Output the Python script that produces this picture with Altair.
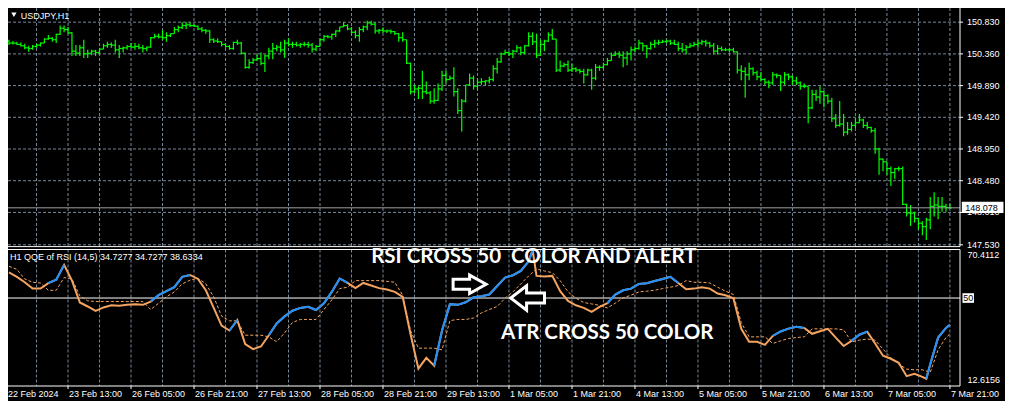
import altair as alt
import pandas as pd

# ---------------- texts ----------------
SYMBOL_TITLE = "USDJPY,H1"
QQE_TITLE = "H1 QQE of RSI (14,5) 34.7277 34.7277 38.6334"
NOTE_RSI = "RSI CROSS 50\u00a0 COLOR AND ALERT"
NOTE_ATR = "ATR CROSS 50 COLOR"

# ---------------- price bars (H1, 240 bars) ----------------
FIRST_OPEN = 150.55
HIGH = [
    150.57, 150.55, 150.54, 150.53, 150.51, 150.48, 150.49, 150.51, 150.53, 150.59,
    150.64, 150.61, 150.66, 150.78, 150.78, 150.76, 150.68, 150.49, 150.49, 150.57,
    150.42, 150.42, 150.42, 150.45, 150.51, 150.54, 150.53, 150.57, 150.49, 150.47,
    150.49, 150.52, 150.52, 150.51, 150.49, 150.47, 150.61, 150.66, 150.66, 150.71,
    150.68, 150.66, 150.76, 150.78, 150.83, 150.83, 150.83, 150.80, 150.78, 150.76,
    150.73, 150.71, 150.59, 150.59, 150.54, 150.52, 150.49, 150.54, 150.57, 150.54,
    150.38, 150.28, 150.30, 150.35, 150.38, 150.35, 150.45, 150.52, 150.49, 150.54,
    150.57, 150.59, 150.54, 150.54, 150.52, 150.54, 150.54, 150.52, 150.49, 150.59,
    150.64, 150.64, 150.66, 150.71, 150.76,
    150.83, 150.80, 150.76, 150.71, 150.76,
    150.78, 150.85, 150.85, 150.83, 150.73, 150.75, 150.72, 150.72, 150.70, 150.67,
    150.68, 150.57, 150.23, 149.90, 149.88, 150.11, 149.95, 149.81, 149.85, 149.92,
    150.11, 150.11, 150.04, 150.16, 149.85, 149.69, 149.90, 150.07, 150.04, 150.00,
    150.00, 149.97, 150.02, 150.19, 150.30, 150.38, 150.42, 150.40, 150.42, 150.49,
    150.47, 150.49, 150.68, 150.68, 150.66, 150.57, 150.57, 150.68, 150.73, 150.58,
    150.26, 150.23, 150.26, 150.21, 150.16, 150.14, 150.14, 150.14, 150.14, 150.21,
    150.19, 150.23, 150.30, 150.38, 150.40, 150.40, 150.40, 150.40, 150.47, 150.47,
    150.57, 150.52, 150.49, 150.54, 150.57, 150.57, 150.57, 150.57, 150.57, 150.57,
    150.54, 150.52, 150.49, 150.52, 150.54, 150.57, 150.57, 150.57, 150.54, 150.52,
    150.49, 150.47, 150.45, 150.45, 150.45, 150.40, 150.19, 150.16, 150.23, 150.16,
    150.11, 150.09, 150.00, 149.97, 150.09, 150.07, 150.04, 150.09, 150.07, 150.04,
    150.02, 149.95, 149.92, 149.88, 149.83, 149.83, 149.88, 149.81, 149.76, 149.71,
    149.47, 149.66, 149.47, 149.35, 149.35, 149.40, 149.47, 149.40, 149.35, 149.28,
    149.26, 148.97, 148.81, 148.76, 148.69, 148.67, 148.69, 148.69, 148.14, 148.12,
    148.02, 147.93, 147.88, 147.93, 148.24, 148.31, 148.24, 148.24, 148.14, 148.14,
]
LOW = [
    150.49, 150.50, 150.49, 150.47, 150.43, 150.39, 150.42, 150.45, 150.47, 150.52,
    150.57, 150.54, 150.52, 150.64, 150.68, 150.66, 150.33, 150.33, 150.33, 150.30,
    150.30, 150.34, 150.33, 150.35, 150.43, 150.45, 150.45, 150.38, 150.30, 150.38,
    150.42, 150.45, 150.42, 150.43, 150.38, 150.40, 150.45, 150.59, 150.59, 150.57,
    150.54, 150.61, 150.66, 150.68, 150.73, 150.73, 150.76, 150.76, 150.71, 150.68,
    150.66, 150.52, 150.52, 150.52, 150.47, 150.45, 150.42, 150.42, 150.49, 150.35,
    150.14, 150.14, 150.21, 150.26, 150.19, 150.09, 150.28, 150.28, 150.40, 150.38,
    150.30, 150.47, 150.45, 150.47, 150.45, 150.47, 150.45, 150.38, 150.40, 150.47,
    150.54, 150.59, 150.57, 150.61, 150.68,
    150.76, 150.71, 150.64, 150.59, 150.54,
    150.68, 150.71, 150.78, 150.66, 150.66, 150.67, 150.67, 150.66, 150.64, 150.54,
    150.54, 150.21, 149.76, 149.78, 149.69, 149.69, 149.76, 149.62, 149.62, 149.66,
    149.81, 149.92, 149.97, 149.73, 149.47, 149.21, 149.64, 149.90, 149.83, 149.83,
    149.90, 149.90, 149.92, 149.95, 150.07, 150.23, 150.35, 150.33, 150.30, 150.38,
    150.34, 150.35, 150.47, 150.49, 150.30, 150.33, 150.40, 150.54, 150.57, 150.09,
    150.09, 150.16, 150.09, 150.09, 150.09, 150.07, 149.92, 150.04, 149.83, 149.97,
    150.11, 150.14, 150.19, 150.26, 150.33, 150.30, 150.16, 150.19, 150.26, 150.38,
    150.42, 150.40, 150.30, 150.42, 150.45, 150.49, 150.52, 150.52, 150.49, 150.49,
    150.40, 150.38, 150.35, 150.45, 150.47, 150.45, 150.49, 150.47, 150.45, 150.35,
    150.35, 150.40, 150.40, 150.38, 150.38, 150.07, 149.97, 149.71, 149.97, 150.04,
    149.97, 149.95, 149.90, 149.85, 149.90, 150.00, 149.81, 149.90, 149.97, 149.90,
    149.90, 149.83, 149.85, 149.33, 149.54, 149.66, 149.62, 149.57, 149.62, 149.35,
    149.26, 149.28, 149.14, 149.16, 149.21, 149.26, 149.33, 149.26, 149.24, 149.19,
    148.88, 148.57, 148.62, 148.57, 148.40, 148.50, 148.62, 148.12, 147.95, 147.81,
    147.86, 147.76, 147.67, 147.60, 147.76, 147.95, 147.91, 148.02, 148.02, 148.07,
]
CLOSE = [
    150.52, 150.52, 150.50, 150.48, 150.45, 150.44, 150.47, 150.49, 150.52, 150.58,
    150.59, 150.57, 150.65, 150.74, 150.72, 150.67, 150.40, 150.37, 150.45, 150.36,
    150.37, 150.40, 150.38, 150.43, 150.48, 150.50, 150.49, 150.42, 150.44, 150.45,
    150.47, 150.46, 150.47, 150.45, 150.44, 150.46, 150.60, 150.62, 150.61, 150.60,
    150.63, 150.66, 150.72, 150.75, 150.78, 150.79, 150.78, 150.77, 150.73, 150.71,
    150.70, 150.57, 150.55, 150.54, 150.50, 150.47, 150.44, 150.53, 150.52, 150.37,
    150.16, 150.23, 150.27, 150.29, 150.22, 150.33, 150.40, 150.44, 150.46, 150.42,
    150.52, 150.50, 150.50, 150.49, 150.50, 150.50, 150.49, 150.43, 150.47, 150.57,
    150.62, 150.61, 150.65, 150.70, 150.76,
    150.78, 150.73, 150.68, 150.63, 150.72,
    150.76, 150.82, 150.80, 150.70, 150.71, 150.70, 150.70, 150.69, 150.66, 150.60,
    150.57, 150.22, 149.80, 149.84, 149.85, 149.80, 149.78, 149.66, 149.67, 149.84,
    150.04, 149.98, 150.00, 149.80, 149.52, 149.66, 149.90, 150.00, 149.88, 149.94,
    149.95, 149.96, 149.98, 150.14, 150.24, 150.36, 150.38, 150.36, 150.40, 150.45,
    150.38, 150.48, 150.62, 150.54, 150.34, 150.50, 150.55, 150.64, 150.58, 150.12,
    150.18, 150.20, 150.12, 150.14, 150.12, 150.10, 150.05, 150.12, 150.00, 150.16,
    150.16, 150.20, 150.26, 150.34, 150.36, 150.34, 150.30, 150.36, 150.42, 150.44,
    150.52, 150.48, 150.44, 150.50, 150.52, 150.53, 150.54, 150.55, 150.52, 150.50,
    150.44, 150.42, 150.46, 150.48, 150.50, 150.52, 150.54, 150.52, 150.48, 150.40,
    150.44, 150.42, 150.42, 150.42, 150.39, 150.12, 150.10, 150.05, 150.14, 150.08,
    150.02, 149.98, 149.94, 149.93, 150.05, 150.04, 149.94, 150.05, 150.02, 149.96,
    149.93, 149.88, 149.88, 149.56, 149.76, 149.72, 149.80, 149.74, 149.66, 149.40,
    149.30, 149.32, 149.20, 149.24, 149.30, 149.34, 149.38, 149.30, 149.27, 149.22,
    148.95, 148.80, 148.76, 148.66, 148.60, 148.66, 148.66, 148.13, 148.00, 148.00,
    147.92, 147.85, 147.80, 147.90, 148.10, 148.12, 148.10, 148.10, 148.08, 148.078,
]
LAST_PRICE = 148.078
PRICE_TICKS = [150.830, 150.360, 149.890, 149.420, 148.950, 148.480, 148.010, 147.530]

# ---------------- x axis (bar index -> time label) ----------------
XTICK_BAR = [-1, 15, 31, 47, 63, 79, 95, 111, 127, 143, 159, 175, 191, 207, 223, 239]
XTICK_LABELS = ["22 Feb 2024", "23 Feb 13:00", "26 Feb 05:00", "26 Feb 21:00", "27 Feb 13:00",
                "28 Feb 05:00", "28 Feb 21:00", "29 Feb 13:00", "1 Mar 05:00", "1 Mar 21:00",
                "4 Mar 13:00", "5 Mar 05:00", "5 Mar 21:00", "6 Mar 13:00", "7 Mar 05:00",
                "7 Mar 21:00"]
GRID_BARS = list(range(7, 240, 8))

# ---------------- QQE indicator (read every 2nd bar) ----------------
RSI_EVERY2 = [
    60.9, 59.0, 56.7, 54.0, 54.0, 56.3, 57.8, 64.1, 57.4, 48.1,
    46.4, 44.5, 46.0, 46.9, 46.7, 47.1, 47.4, 47.1, 48.5, 51.2,
    52.9, 54.6, 59.0, 59.8, 58.1, 53.3, 45.8, 38.3, 36.2, 40.6,
    30.4, 28.3, 29.4, 34.2, 39.2, 42.2, 44.6, 45.8, 46.3, 44.9,
    47.8, 52.6, 58.3, 56.4, 54.2, 56.4, 55.3, 54.2, 53.6, 52.6,
    50.5, 34.6, 20.0, 24.6, 21.2, 36.2, 47.4, 47.1, 48.2, 50.3,
    50.8, 51.5, 55.1, 58.7, 59.7, 61.5, 65.6, 59.4, 59.2, 59.4,
    52.9, 48.8, 46.9, 45.8, 44.1, 46.2, 47.8, 51.5, 53.3, 54.0,
    56.0, 56.3, 57.2, 58.1, 59.0, 56.4, 53.7, 54.0, 54.6, 54.0,
    51.9, 51.2, 49.9, 36.9, 31.4, 31.4, 30.1, 33.9, 35.8, 37.0,
    37.8, 37.3, 34.8, 35.9, 36.9, 33.2, 29.6, 31.8, 34.4, 35.7,
    30.7, 25.5, 24.2, 22.5, 16.8, 17.8, 16.5, 21.9, 33.2, 37.3,
]
RSI_EXTRA_BAR = [133, 233, 239]
RSI_EXTRA = [70.41, 15.7, 38.6334]
TRAIL_EVERY2 = [
    63.5, 62.2, 58.1, 56.7, 56.4, 53.3, 53.3, 58.7, 58.1, 50.9,
    48.8, 48.5, 48.5, 48.5, 48.5, 48.5, 48.5, 48.5, 45.1, 47.8,
    50.5, 52.6, 56.0, 57.6, 58.4, 56.0, 50.5, 42.3, 40.3, 40.3,
    34.2, 34.2, 34.2, 33.5, 31.4, 35.2, 39.6, 40.9, 40.9, 40.9,
    45.1, 49.2, 54.0, 54.6, 57.4, 57.4, 57.4, 57.4, 57.1, 56.7,
    51.2, 36.2, 28.7, 28.7, 28.7, 28.0, 40.4, 40.9, 40.9, 41.5,
    43.7, 45.1, 46.4, 49.9, 52.6, 56.0, 59.4, 62.4, 61.5, 60.8,
    57.4, 52.6, 49.9, 48.1, 47.5, 46.9, 45.8, 47.8, 50.1, 51.2,
    52.6, 52.9, 53.3, 54.0, 54.6, 55.3, 57.4, 56.7, 56.7, 56.4,
    54.6, 52.9, 51.5, 39.6, 33.5, 33.5, 33.5, 30.7, 31.8, 32.8,
    33.2, 33.5, 36.9, 36.9, 36.9, 36.9, 36.5, 31.4, 32.1, 32.6,
    32.1, 28.3, 24.6, 21.9, 19.8, 19.5, 19.5, 18.4, 28.0, 33.2,
]
TRAIL_EXTRA_BAR = [239]
TRAIL_EXTRA = [34.7277]
BLUE_FROM = [10, 36, 56, 66, 108, 152, 194, 214, 233]
BLUE_TO = [14, 46, 58, 86, 133, 170, 202, 218, 239]
QQE_MAX, QQE_MID, QQE_MIN = 70.4112, 50, 12.6156

# ---------------- styling / layout ----------------
BG = "#000000"
GRID = "#778899"
GREEN = "#00ff00"
ORANGE = "#f4a460"
BLUE = "#1e90ff"
WHITE = "#ffffff"
BIDLINE = "#a0a0a0"
FONT = "Liberation Sans"

PLOT_W, PLOT_H = 952, 378
PX_PER_BAR = 3.937          # horizontal pixels per bar
PX_PER_QQE = 2.35312        # vertical pixels per indicator unit
X_LEFT, X_RIGHT = -0.25, 241.56
P_TOP, P_BOTTOM = 151.04, 147.503
Q_TOP, Q_BOTTOM = 70.62, QQE_MIN

xs = alt.Scale(domain=[X_LEFT, X_RIGHT], nice=False, zero=False)
ps = alt.Scale(domain=[145.437, P_TOP], nice=False, zero=False)
qs = alt.Scale(domain=[QQE_MIN, 173.253], nice=False, zero=False)


def X(f):
    return alt.X(f, type="quantitative", scale=xs, axis=None)


def YP(f):
    return alt.Y(f, type="quantitative", scale=ps, axis=None)


def YQ(f):
    return alt.Y(f, type="quantitative", scale=qs, axis=None)


def label(df, yenc, **kw):
    style = dict(font=FONT, fontSize=9, color=WHITE, align="left", baseline="middle")
    style.update(kw)
    return alt.Chart(df).mark_text(**style).encode(x=X("i"), y=yenc, text="t:N")


# ---------------- data frames ----------------
n = len(HIGH)
bars = pd.DataFrame({"i": list(range(n)), "high": HIGH, "low": LOW, "close": CLOSE})
bars["open"] = [FIRST_OPEN] + CLOSE[:-1]
bars["ol"] = bars["i"] - 0.5
bars["cr"] = bars["i"] + 0.5

rsi = pd.DataFrame({"i": list(range(0, 2 * len(RSI_EVERY2), 2)) + RSI_EXTRA_BAR,
                    "v": RSI_EVERY2 + RSI_EXTRA}).sort_values("i")
trail = pd.DataFrame({"i": list(range(0, 2 * len(TRAIL_EVERY2), 2)) + TRAIL_EXTRA_BAR,
                      "v": TRAIL_EVERY2 + TRAIL_EXTRA}).sort_values("i")
blue_parts = []
for s, (a, b) in enumerate(zip(BLUE_FROM, BLUE_TO)):
    part = rsi[(rsi["i"] >= a) & (rsi["i"] <= b)].copy()
    part["seg"] = s
    blue_parts.append(part)
blue = pd.concat(blue_parts)

vgrid_top = pd.DataFrame({"g": GRID_BARS, "top": P_TOP, "bot": P_BOTTOM})
vgrid_bot = pd.DataFrame({"g": GRID_BARS, "top": Q_TOP, "bot": Q_BOTTOM})
hgrid = pd.DataFrame({"p": PRICE_TICKS, "x0": X_LEFT, "x1": X_RIGHT})
top_border = pd.DataFrame({"x0": [X_LEFT, X_RIGHT], "x1": [X_RIGHT, X_RIGHT],
                           "y0": [P_BOTTOM, P_TOP], "y1": [P_BOTTOM, P_BOTTOM]})
bot_border = pd.DataFrame({"x0": [X_LEFT, X_RIGHT, X_LEFT], "x1": [X_RIGHT, X_RIGHT, X_RIGHT],
                           "y0": [Q_TOP, Q_TOP, Q_BOTTOM], "y1": [Q_TOP, Q_BOTTOM, Q_BOTTOM]})

# right price scale labels + ticks
price_lab = pd.DataFrame({"i": X_RIGHT + 7 / PX_PER_BAR, "p": PRICE_TICKS,
                          "t": [f"{v:.3f}" for v in PRICE_TICKS]})
price_tick = pd.DataFrame({"x0": X_RIGHT, "x1": X_RIGHT + 3 / PX_PER_BAR, "p": PRICE_TICKS})
# bottom time labels + ticks (first label kept inside the left edge)
time_lab = pd.DataFrame({"i": [max(b + 1 / PX_PER_BAR, X_LEFT) for b in XTICK_BAR],
                         "v": Q_BOTTOM - 4 / PX_PER_QQE, "t": XTICK_LABELS})
time_tick = pd.DataFrame({"i": XTICK_BAR[1:], "y0": Q_BOTTOM, "y1": Q_BOTTOM - 3 / PX_PER_QQE})

# ---------------- top panel (price) ----------------
t_hgrid = alt.Chart(hgrid).mark_rule(color=GRID, strokeDash=[3, 2], strokeWidth=1).encode(
    x=X("x0"), x2="x1", y=YP("p"))
t_vgrid = alt.Chart(vgrid_top).mark_rule(color=GRID, strokeDash=[3, 2], strokeWidth=1).encode(
    x=X("g"), y=YP("top"), y2="bot")
t_bars = alt.Chart(bars).mark_rule(color=GREEN, strokeWidth=1.2).encode(
    x=X("i"), y=YP("low"), y2="high")
t_open = alt.Chart(bars).mark_rule(color=GREEN, strokeWidth=1.2).encode(
    x=X("ol"), x2="i", y=YP("open"))
t_close = alt.Chart(bars).mark_rule(color=GREEN, strokeWidth=1.2).encode(
    x=X("i"), x2="cr", y=YP("close"))
t_last = alt.Chart(pd.DataFrame({"p": [LAST_PRICE], "x0": [X_LEFT], "x1": [X_RIGHT]})).mark_rule(
    color=BIDLINE, strokeWidth=1).encode(x=X("x0"), x2="x1", y=YP("p"))
t_border = alt.Chart(top_border).mark_rule(color=WHITE, strokeWidth=1).encode(
    x=X("x0"), x2="x1", y=YP("y0"), y2="y1")
t_ticks = alt.Chart(price_tick).mark_rule(color=WHITE, strokeWidth=1).encode(
    x=X("x0"), x2="x1", y=YP("p"))
t_plabels = label(price_lab, YP("p"))
t_tri = alt.Chart(pd.DataFrame({"i": [1.25], "p": [150.94]})).mark_point(
    shape="triangle-down", size=28, filled=True, color=WHITE, opacity=1).encode(
    x=X("i"), y=YP("p"))
t_title = label(pd.DataFrame({"i": [3.0], "p": [150.926], "t": [SYMBOL_TITLE]}), YP("p"))
t_box = alt.Chart(pd.DataFrame({"x0": [242.02], "x1": [252.6], "y0": [148.001], "y1": [148.167]})).mark_rect(
    color=WHITE).encode(x=X("x0"), x2="x1", y=YP("y0"), y2="y1")
t_boxtext = label(pd.DataFrame({"i": [242.9], "p": [LAST_PRICE], "t": [f"{LAST_PRICE:.3f}"]}),
                  YP("p"), color="#000000")

top = alt.layer(t_hgrid, t_vgrid, t_bars, t_open, t_close, t_last, t_border, t_ticks,
                t_plabels, t_tri, t_title, t_box, t_boxtext)

# ---------------- bottom panel (QQE) ----------------
b_vgrid = alt.Chart(vgrid_bot).mark_rule(color=GRID, strokeDash=[3, 2], strokeWidth=1).encode(
    x=X("g"), y=YQ("top"), y2="bot")
b_mid = alt.Chart(pd.DataFrame({"v": [QQE_MID], "x0": [X_LEFT], "x1": [X_RIGHT]})).mark_rule(
    color=WHITE, strokeWidth=1).encode(x=X("x0"), x2="x1", y=YQ("v"))
b_trail = alt.Chart(trail).mark_line(color=ORANGE, strokeWidth=1, strokeDash=[3, 2]).encode(
    x=X("i"), y=YQ("v"))
b_rsi = alt.Chart(rsi).mark_line(color=ORANGE, strokeWidth=2).encode(x=X("i"), y=YQ("v"))
b_blue = alt.Chart(blue).mark_line(color=BLUE, strokeWidth=2).encode(
    x=X("i"), y=YQ("v"), detail="seg:N")
b_border = alt.Chart(bot_border).mark_rule(color=WHITE, strokeWidth=1).encode(
    x=X("x0"), x2="x1", y=YQ("y0"), y2="y1")
b_tticks = alt.Chart(time_tick).mark_rule(color=WHITE, strokeWidth=1).encode(
    x=X("i"), y=YQ("y0"), y2="y1")
b_tlabels = label(time_lab, YQ("v"), baseline="top")
b_title = label(pd.DataFrame({"i": [0.26], "v": [67.44], "t": [QQE_TITLE]}), YQ("v"))
b_max = label(pd.DataFrame({"i": [243.44], "v": [QQE_MAX], "t": [f"{QQE_MAX:.4f}"]}), YQ("v"),
              baseline="top", dy=1)
b_min = label(pd.DataFrame({"i": [243.44], "v": [QQE_MIN], "t": [f"{QQE_MIN:.4f}"]}), YQ("v"),
              baseline="bottom", dy=-1)
b_box = alt.Chart(pd.DataFrame({"x0": [242.19], "x1": [245.11], "y0": [47.96], "y1": [52.04]})).mark_rect(
    color=WHITE).encode(x=X("x0"), x2="x1", y=YQ("y0"), y2="y1")
b_boxtext = label(pd.DataFrame({"i": [243.65], "v": [QQE_MID], "t": [str(QQE_MID)]}), YQ("v"),
                  color="#000000", align="center")
b_note1 = label(pd.DataFrame({"i": [92.0], "v": [64.76], "t": [NOTE_RSI]}), YQ("v"),
                font="Lato", fontSize=20.5, fontWeight="bold", baseline="alphabetic")
b_note2 = label(pd.DataFrame({"i": [125.0], "v": [32.63], "t": [NOTE_ATR]}), YQ("v"),
                font="Lato", fontSize=20.5, fontWeight="bold", baseline="alphabetic")
ARROW_RIGHT = "M -1 -0.3 L 0 -0.3 L 0 -0.56 L 1 0 L 0 0.56 L 0 0.3 L -1 0.3 Z"
ARROW_LEFT = "M 1 -0.29 L -0.06 -0.29 L -0.06 -0.72 L -1 0 L -0.06 0.72 L -0.06 0.29 L 1 0.29 Z"
b_arrow1 = alt.Chart(pd.DataFrame({"i": [117.0], "v": [55.83]})).mark_point(
    shape=ARROW_RIGHT, size=1089, filled=True, fill="#000000", stroke=WHITE, strokeWidth=3,
    opacity=1).encode(x=X("i"), y=YQ("v"))
b_arrow2 = alt.Chart(pd.DataFrame({"i": [131.73], "v": [50.01]})).mark_point(
    shape=ARROW_LEFT, size=1142, filled=True, fill="#000000", stroke=WHITE, strokeWidth=3,
    opacity=1).encode(x=X("i"), y=YQ("v"))

bottom = alt.layer(b_vgrid, b_mid, b_trail, b_rsi, b_blue, b_border, b_tticks, b_tlabels,
                   b_title, b_max, b_min, b_box, b_boxtext, b_note1, b_note2, b_arrow1, b_arrow2)

chart = alt.layer(top, bottom).resolve_scale(y="independent").properties(
    width=PLOT_W, height=PLOT_H, background=BG,
    padding={"left": 0, "top": 0, "right": 45, "bottom": 15},
    autosize=alt.AutoSizeParams(type="none"),
).configure_view(stroke=None)

chart.save("out.html", embed_options={"renderer": "svg", "actions": False})
